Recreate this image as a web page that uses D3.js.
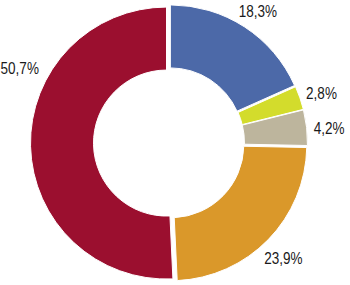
<!DOCTYPE html>
<html>
<head>
<meta charset="utf-8">
<script src="https://cdn.jsdelivr.net/npm/d3@7"></script>
<style>
  html, body { margin: 0; padding: 0; background: #fff; }
  svg { display: block; }
</style>
</head>
<body>
<div id="chart"></div>
<script>
// slice shares, clockwise from 12 o'clock
var categories = ["A", "B", "C", "D", "E"];
var values = [18.3, 2.8, 4.2, 23.9, 50.7];
var labels = ["18,3%", "2,8%", "4,2%", "23,9%", "50,7%"];
var colors = ["#4c69a8", "#d3dc2c", "#bdb59d", "#da982a", "#9b0f2f"];

var width = 350, height = 285;
var cx = 169, cy = 143;
var outerR = 136, innerR = 73, explode = 2.5;

var svg = d3.select("#chart").append("svg")
  .attr("width", width)
  .attr("height", height);

var g = svg.append("g")
  .attr("transform", "translate(" + cx + "," + cy + ")");

var pie = d3.pie().sort(null).value(function (d) { return d; });
var arcs = pie(values);

var arc = d3.arc().innerRadius(innerR).outerRadius(outerR);

// push every slice a little away from the centre
g.selectAll("path")
  .data(arcs)
  .enter().append("path")
  .attr("d", arc)
  .attr("fill", function (d, i) { return colors[i]; })
  .attr("stroke", "#fff")
  .attr("stroke-width", 1)
  .attr("transform", function (d) {
    var a = (d.startAngle + d.endAngle) / 2;
    return "translate(" + (Math.sin(a) * explode) + "," + (-Math.cos(a) * explode) + ")";
  });

function labelAngle(d, i) {
  var a = (d.startAngle + d.endAngle) / 2;
  if (d.value === d3.max(values)) a += 28 * Math.PI / 180;
  else a += 1 * Math.PI / 180;
  return a;
}
function labelDist(d, i) {
  var a = (d.startAngle + d.endAngle) / 2;
  if (d.value === d3.max(values)) return 167;
  return 158 + 6 * (a / Math.PI);
}

// labels outside the ring, narrowed like a condensed face
var lab = g.selectAll("g.lab")
  .data(arcs)
  .enter().append("g")
  .attr("class", "lab")
  .attr("transform", function (d, i) {
    var a = labelAngle(d, i), r = labelDist(d, i);
    return "translate(" + (Math.sin(a) * r) + "," + (-Math.cos(a) * r) + ")";
  });

lab.append("text")
  .attr("text-anchor", "middle")
  .attr("dy", "0.36em")
  .attr("transform", "scale(0.82,1)")
  .style("font-family", "'Liberation Sans', Arial, sans-serif")
  .style("font-size", "16.5px")
  .style("fill", "#1a1a1a")
  .text(function (d, i) { return labels[i]; });
</script>
</body>
</html>
